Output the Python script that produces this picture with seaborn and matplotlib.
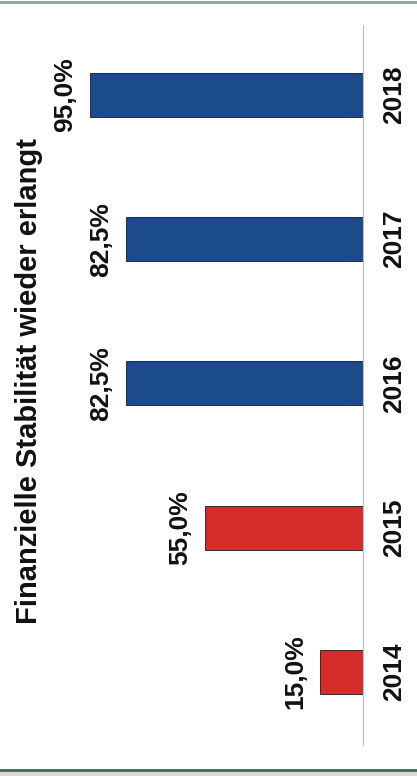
import matplotlib
matplotlib.use("Agg")
import matplotlib.pyplot as plt
import seaborn as sns
import pandas as pd
from matplotlib.lines import Line2D
from matplotlib import font_manager

years = ["2014", "2015", "2016", "2017", "2018"]
values = [15.0, 55.0, 82.5, 82.5, 95.0]
labels = ["15,0%", "55,0%", "82,5%", "82,5%", "95,0%"]
colors = ["#d42b2b", "#d42b2b", "#1b4b8c", "#1b4b8c", "#1b4b8c"]
title = "Finanzielle Stabilität wieder erlangt"

sns.set_theme(style="white")
names = {f.name for f in font_manager.fontManager.ttflist}
fam = ["Liberation Sans Narrow", "DejaVu Sans"] if "Liberation Sans Narrow" in names else ["Liberation Sans", "DejaVu Sans"]
narrow = "Liberation Sans Narrow" in names
plt.rcParams["font.family"] = fam

df = pd.DataFrame({"year": years, "value": values})
order = years[::-1]
pal = dict(zip(years, colors))

fig = plt.figure(figsize=(4.17, 7.76), dpi=100)
ax = fig.add_axes([0.0, 31 / 776, 363 / 417, 720 / 776])
sns.barplot(data=df, x="value", y="year", hue="year", order=order, palette=pal,
            orient="h", width=0.305, edgecolor="#1a1a1a", linewidth=0.6,
            saturation=1, legend=False, ax=ax)
ax.set_xlim(363 / 2.874, 0)
ax.set_ylim(4.506, -0.485)
ax.set_xlabel("")
ax.set_ylabel("")
ax.set_xticks([])
for s in ["top", "left", "bottom"]:
    ax.spines[s].set_visible(False)
ax.spines["right"].set_visible(True)
ax.spines["right"].set_color("#bbbbbb")
ax.spines["right"].set_linestyle((0, (1, 1)))
ax.spines["right"].set_linewidth(0.8)
ax.yaxis.tick_right()
ax.tick_params(axis="y", length=0, pad=14)
for t in ax.get_yticklabels():
    t.set_rotation(90)
    t.set_va("center")
    t.set_fontsize(19)
    t.set_fontweight("bold")
    t.set_color("#111111")

lab = dict(zip(years, labels))
val = dict(zip(years, values))
for i, y in enumerate(order):
    ax.text(val[y] + 8.5, i, lab[y], rotation=90, ha="center", va="center",
            fontsize=19, fontweight="bold", color="#111111")

fig.text(29 / 417, 1 - 381 / 776, title, rotation=90, ha="center", va="center",
         fontsize=26 if narrow else 21, fontweight="bold", color="#111111")

fig.add_artist(Line2D([0, 1], [0.998, 0.998], transform=fig.transFigure, color="#7fa8a0", lw=2))
fig.add_artist(Line2D([0, 1], [0.008, 0.008], transform=fig.transFigure, color="#2f6e4e", lw=2))
fig.add_artist(plt.Rectangle((0, 0), 1, 0.006, transform=fig.transFigure, color="#d8d8d8", zorder=0))

fig.savefig("out.png", dpi=100)
